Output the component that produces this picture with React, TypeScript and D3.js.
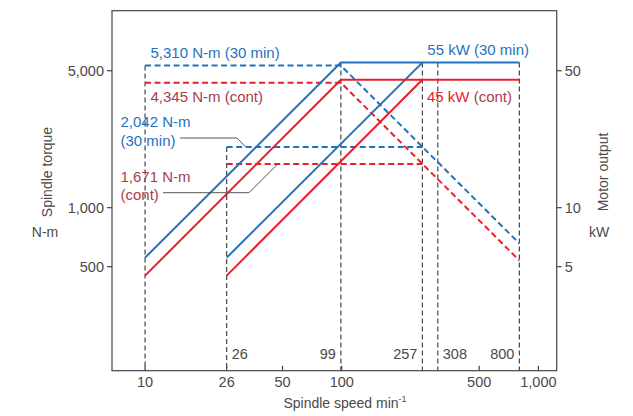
import React from 'react';
import * as d3 from 'd3';

// spindle speed (min-1) breakpoints
const speedTicks = [10, 26, 50, 100, 500, 1000];
const torqueTicks = [500, 1000, 5000];
const powerTicks = [5, 10, 50];

// torque curves (left axis), N-m
const torque30Low = [[10, 5310], [99, 5310], [800, 657]];
const torque30High = [[26, 2042], [257, 2042]];
const torqueContLow = [[10, 4345], [99, 4345], [800, 538]];
const torqueContHigh = [[26, 1671], [257, 1671]];

// motor output curves (right axis), kW
const power30Low = [[10, 5.56], [99, 55], [800, 55]];
const power30High = [[26, 5.56], [257, 55]];
const powerContLow = [[10, 4.5], [99, 45], [800, 45]];
const powerContHigh = [[26, 4.5], [257, 45]];

// vertical guide lines: [speed, top torque or power, axis]
const guides: [number, number, string][] = [
  [10, 5310, 'T'], [26, 2042, 'T'], [99, 55, 'P'],
  [257, 55, 'P'], [308, 55, 'P'], [800, 55, 'P'],
];
const speedLabels: [number, string][] = [
  [26, 'start'], [99, 'end'], [257, 'end'], [308, 'start'], [800, 'end'],
];

const BLUE = '#1f72bd';
const RED = '#e8202a';
const DARKRED = '#a83d4a';
const GRAY = '#4a4a4a';

const W = 633, H = 416;
const left = 112, right = 556.7, top = 10.7, bottom = 370.7;

export default function App() {
  const x = d3.scaleLog().domain([6.79, 1239]).range([left, right]);
  const yT = d3.scaleLog().domain([147.3, 10120]).range([bottom, top]);
  const yP = d3.scaleLog().domain([1.473, 101.2]).range([bottom, top]);

  const lineT = d3.line<number[]>().x(d => x(d[0])).y(d => yT(d[1]));
  const lineP = d3.line<number[]>().x(d => x(d[0])).y(d => yP(d[1]));
  const fmt = d3.format(',');
  const font = '"Liberation Sans", Arial, sans-serif';

  return (
    <svg width={W} height={H} style={{ position: 'absolute', left: 0, top: 0 }}
      fontFamily={font} fill={GRAY}>
      {/* guides */}
      {guides.map(([s, v, a], i) => (
        <line key={i} x1={x(s)} x2={x(s)} y1={a === 'T' ? yT(v) : yP(v)} y2={bottom}
          stroke="#333" strokeWidth={1.1} strokeDasharray="5,3" />
      ))}

      {/* torque dashed */}
      {[torque30Low, torque30High].map((d, i) => (
        <path key={'tb' + i} d={lineT(d) || ''} fill="none" stroke={BLUE} strokeWidth={2} strokeDasharray="6,3.5" />
      ))}
      {[torqueContLow, torqueContHigh].map((d, i) => (
        <path key={'tr' + i} d={lineT(d) || ''} fill="none" stroke={RED} strokeWidth={2} strokeDasharray="6,3.5" />
      ))}
      {/* power solid */}
      {[power30Low, power30High].map((d, i) => (
        <path key={'pb' + i} d={lineP(d) || ''} fill="none" stroke={BLUE} strokeWidth={2} />
      ))}
      {[powerContLow, powerContHigh].map((d, i) => (
        <path key={'pr' + i} d={lineP(d) || ''} fill="none" stroke={RED} strokeWidth={2} />
      ))}

      {/* frame */}
      <rect x={left} y={top} width={right - left} height={bottom - top} fill="none" stroke="#444" strokeWidth={1.2} />

      {/* x ticks */}
      {speedTicks.map(t => (
        <g key={'x' + t}>
          <line x1={x(t)} x2={x(t)} y1={bottom} y2={bottom - 5} stroke="#444" strokeWidth={1.2} />
          <text x={x(t)} y={bottom + 16} textAnchor="middle" fontSize={14.5}>{fmt(t)}</text>
        </g>
      ))}
      {/* left ticks */}
      {torqueTicks.map(t => (
        <g key={'t' + t}>
          <line x1={left} x2={left - 5} y1={yT(t)} y2={yT(t)} stroke="#444" strokeWidth={1.2} />
          <text x={left - 8} y={yT(t) + 5} textAnchor="end" fontSize={14.5}>{fmt(t)}</text>
        </g>
      ))}
      {/* right ticks */}
      {powerTicks.map(t => (
        <g key={'p' + t}>
          <line x1={right} x2={right + 5} y1={yP(t)} y2={yP(t)} stroke="#444" strokeWidth={1.2} />
          <text x={right + 8} y={yP(t) + 5} textAnchor="start" fontSize={14.5}>{t}</text>
        </g>
      ))}

      {/* speed labels */}
      {speedLabels.map(([s, a]) => (
        <text key={'s' + s} x={x(s) + (a === 'start' ? 5 : -5)} y={359} textAnchor={a} fontSize={14.5}>{s}</text>
      ))}

      {/* axis titles */}
      <text transform="translate(52,172) rotate(-90)" textAnchor="middle" fontSize={14}>Spindle torque</text>
      <text x={45} y={237} textAnchor="middle" fontSize={14}>N-m</text>
      <text transform="translate(608,172) rotate(-90)" textAnchor="middle" fontSize={14}>Motor output</text>
      <text x={599} y={237} textAnchor="middle" fontSize={14}>kW</text>
      <text x={345} y={408} textAnchor="middle" fontSize={14}>
        Spindle speed min<tspan dy={-6} fontSize={9}>-1</tspan>
      </text>

      {/* annotations */}
      <text x={150.5} y={57.5} fontSize={15} fill={BLUE}>5,310 N-m (30 min)</text>
      <text x={150.5} y={102} fontSize={15} fill={DARKRED}>4,345 N-m (cont)</text>
      <text x={120.5} y={127} fontSize={15} fill={BLUE}>2,042 N-m</text>
      <text x={120.5} y={145.5} fontSize={15} fill={BLUE}>(30 min)</text>
      <text x={120.5} y={181.5} fontSize={15} fill={DARKRED}>1,671 N-m</text>
      <text x={120.5} y={200} fontSize={15} fill={DARKRED}>(cont)</text>
      <text x={529} y={54.5} textAnchor="end" fontSize={15} fill={BLUE}>55 kW (30 min)</text>
      <text x={427} y={102} fontSize={15} fill={DARKRED}><tspan fill={RED}>45 kW</tspan> (cont)</text>

      {/* leaders */}
      <polyline points={`180,138 237,138 245.5,${yT(2042)}`} fill="none" stroke="#555" strokeWidth={1} />
      <polyline points={`163,192.7 249,192.7 277.7,${yT(1671)}`} fill="none" stroke="#555" strokeWidth={1} />
    </svg>
  );
}
